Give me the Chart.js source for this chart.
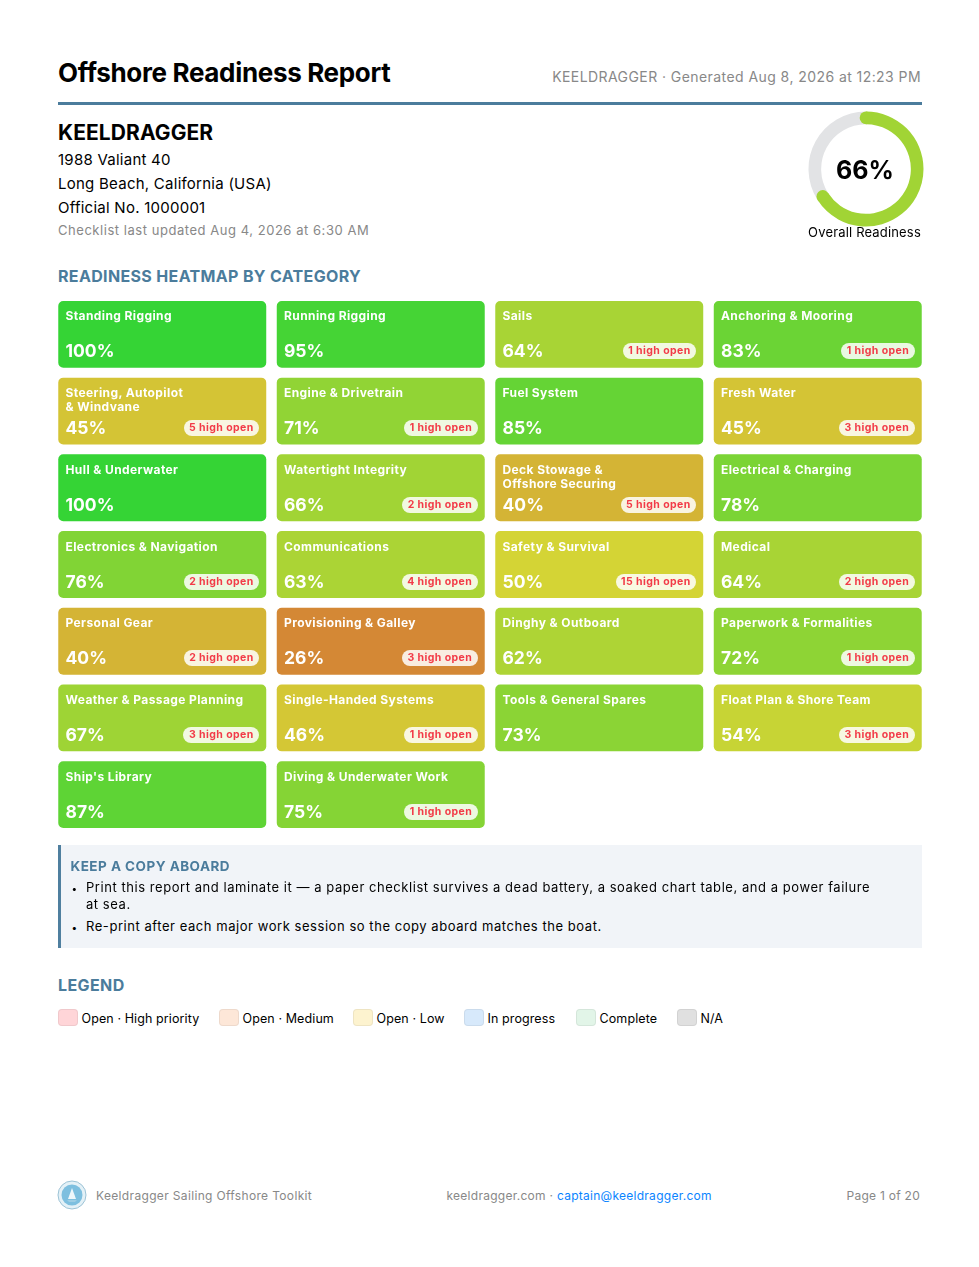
<!DOCTYPE html>
<html>
<head>
<meta charset="utf-8">
<title>Offshore Readiness Report</title>
<script src="https://cdn.jsdelivr.net/npm/chart.js@4"></script>
<style>
  html, body { margin: 0; padding: 0; background: #fff; }
  body { position: relative; width: 979px; height: 1267px; overflow: hidden; font-family: Inter, "Noto Sans", sans-serif; color: #000; }
  .t { position: absolute; white-space: pre; line-height: 1; }
  canvas { position: absolute; }
  .rule { position: absolute; left: 58px; top: 102px; width: 864px; height: 3px; background: #4b7c9c; }
  .h2 { font-weight: 700; color: #4b7c9c; }
  .callout { position: absolute; left: 58px; top: 845px; width: 860.5px; height: 103px; background: #f1f4f8; border-left: 3px solid #4f7f9f; }
  .swatch { position: absolute; top: 1009px; width: 18px; height: 15px; border-radius: 4px; border: 1px solid rgba(0,0,0,.06); }
  .cell-label { position: absolute; color: #fff; font-weight: 700; font-size: 12px; line-height: 14px; letter-spacing: .4px; white-space: pre; }
  .cell-pct { position: absolute; color: #fff; font-weight: 700; font-size: 17.5px; line-height: 20px; white-space: pre; }
  .cell-badge { position: absolute; height: 16px; line-height: 16px; padding: 0 5.5px; border-radius: 8px; background: rgba(255,255,255,.85); color: #f23b48; font-weight: 700; font-size: 10.5px; letter-spacing: .42px; white-space: pre; }
</style>
</head>
<body>
<div class="t" style="left:58px;top:60px;font-size:26px;font-weight:700;letter-spacing:-.33px">Offshore Readiness Report</div>
<div class="t" id="generated" style="right:58px;top:70px;font-size:14px;color:#888;letter-spacing:.43px">KEELDRAGGER · Generated Aug 8, 2026 at 12:23 PM</div>
<div class="rule"></div>

<div class="t" style="left:58px;top:122px;font-size:21px;font-weight:700;letter-spacing:.08px">KEELDRAGGER</div>
<div class="t" style="left:58px;top:151.5px;font-size:15px;letter-spacing:.25px">1988 Valiant 40</div>
<div class="t" style="left:58px;top:175.5px;font-size:15px;letter-spacing:.25px">Long Beach, California (USA)</div>
<div class="t" style="left:58px;top:199.5px;font-size:15px;letter-spacing:.25px">Official No. 1000001</div>
<div class="t" style="left:58px;top:224px;font-size:13px;color:#888;letter-spacing:.54px">Checklist last updated Aug 4, 2026 at 6:30 AM</div>

<canvas id="gauge" width="120" height="120" style="left:806px;top:109px;width:120px;height:120px"></canvas>
<div class="t" id="gaugeValue" style="left:805px;width:120px;text-align:center;top:157.5px;font-size:25px;font-weight:700"></div>
<div class="t" style="left:805px;width:119px;text-align:center;top:226px;font-size:13px;letter-spacing:.17px">Overall Readiness</div>

<div class="t h2" style="left:58px;top:268px;font-size:16px;letter-spacing:.34px">READINESS HEATMAP BY CATEGORY</div>

<canvas id="heatmap" width="874" height="537" style="left:53px;top:296px;width:874px;height:537px"></canvas>
<div id="cellText"></div>

<div class="callout"></div>
<div class="t h2" style="left:70.5px;top:860px;font-size:13.5px;letter-spacing:.47px">KEEP A COPY ABOARD</div>
<div class="t" style="left:71.5px;top:883px;font-size:10px">•</div>
<div class="t" style="left:86px;top:881px;font-size:13px;letter-spacing:.55px">Print this report and laminate it — a paper checklist survives a dead battery, a soaked chart table, and a power failure</div>
<div class="t" style="left:86px;top:897.5px;font-size:13px;letter-spacing:.55px">at sea.</div>
<div class="t" style="left:71.5px;top:921.5px;font-size:10px">•</div>
<div class="t" style="left:86px;top:919.5px;font-size:13px;letter-spacing:.55px">Re-print after each major work session so the copy aboard matches the boat.</div>

<div class="t h2" style="left:58px;top:977px;font-size:16px;letter-spacing:.4px">LEGEND</div>
<div id="legend"></div>

<svg style="position:absolute;left:57px;top:1180px" width="30" height="30" viewBox="0 0 30 30">
  <circle cx="15" cy="15" r="14" fill="#e4f1f7" stroke="#9cc3d6" stroke-width="1"/>
  <circle cx="15" cy="15" r="10.5" fill="#7dbfdf"/>
  <path d="M15 8 L19 19 H11 Z" fill="#eef7fb"/>
  <path d="M10 20 H20 L18 22 H12 Z" fill="#9ccde4"/>
</svg>
<div class="t" style="left:96px;top:1190px;font-size:12px;color:#888;letter-spacing:.34px">Keeldragger Sailing Offshore Toolkit</div>
<div class="t" style="left:446.5px;top:1190px;font-size:12px;color:#888;letter-spacing:.27px">keeldragger.com · <span style="color:#0a84ff">captain@keeldragger.com</span></div>
<div class="t" style="right:59px;top:1190px;font-size:12px;color:#888;letter-spacing:.27px">Page 1 of 20</div>

<script>
// Heatmap data, reading order left to right
const categories = [
  'Standing Rigging', 'Running Rigging', 'Sails', 'Anchoring & Mooring',
  'Steering, Autopilot\n& Windvane', 'Engine & Drivetrain', 'Fuel System', 'Fresh Water',
  'Hull & Underwater', 'Watertight Integrity', 'Deck Stowage &\nOffshore Securing', 'Electrical & Charging',
  'Electronics & Navigation', 'Communications', 'Safety & Survival', 'Medical',
  'Personal Gear', 'Provisioning & Galley', 'Dinghy & Outboard', 'Paperwork & Formalities',
  'Weather & Passage Planning', 'Single-Handed Systems', 'Tools & General Spares', 'Float Plan & Shore Team',
  "Ship's Library", 'Diving & Underwater Work'
];
const readiness = [
  100, 95, 64, 83,
  45, 71, 85, 45,
  100, 66, 40, 78,
  76, 63, 50, 64,
  40, 26, 62, 72,
  67, 46, 73, 54,
  87, 75
];
const highOpen = [
  0, 0, 1, 1,
  5, 1, 0, 3,
  0, 2, 5, 0,
  2, 4, 15, 2,
  2, 3, 0, 1,
  3, 1, 0, 3,
  0, 1
];
const columns = ['c1', 'c2', 'c3', 'c4'];
const rowCount = 7;

const overall = [66, 34];

const legendLabels = ['Open · High priority', 'Open · Medium', 'Open · Low', 'In progress', 'Complete', 'N/A'];
const legendColors = ['#ffd5d8', '#fde7d8', '#fdf3cf', '#d7e9fb', '#e2f5e8', '#e0e0e0'];
const legendLefts = [58, 219, 353, 464, 576, 677];

// Cell colour runs red to green with the score
const scoreColor = (pct) => `hsl(${pct * 1.2}, 65%, 52%)`;
const rowInset = 0.051;

// Heatmap cells are floating bars on a column axis and a row axis
const heatmap = new Chart(document.getElementById('heatmap'), {
  type: 'bar',
  data: {
    labels: columns,
    datasets: [{
      data: readiness.map((pct, i) => {
        const row = Math.floor(i / columns.length);
        return { x: columns[i % columns.length], y: [row + rowInset, row + 1 - rowInset] };
      }),
      backgroundColor: readiness.map(scoreColor),
      borderColor: 'rgba(255,255,255,0.3)',
      borderWidth: 1,
      borderSkipped: false,
      borderRadius: 6,
      categoryPercentage: 1,
      barPercentage: 0.961
    }]
  },
  options: {
    responsive: false,
    animation: false,
    layout: { padding: 0 },
    plugins: { legend: { display: false }, tooltip: { enabled: false } },
    scales: {
      x: { display: false, offset: true },
      y: { display: false, min: 0, max: rowCount, reverse: true }
    }
  }
});

// Text on top of the cells, placed from the bar elements
const box = document.getElementById('heatmap');
const cellText = document.getElementById('cellText');
heatmap.getDatasetMeta(0).data.forEach((bar, i) => {
  const { x, y, base, width } = bar.getProps(['x', 'y', 'base', 'width'], true);
  const left = box.offsetLeft + x - width / 2;
  const right = box.offsetLeft + x + width / 2;
  const top = box.offsetTop + Math.min(y, base);

  const label = document.createElement('div');
  label.className = 'cell-label';
  label.textContent = categories[i];
  label.style.left = (left + 8.25) + 'px';
  label.style.top = (top + 9.5) + 'px';
  cellText.appendChild(label);

  const pct = document.createElement('div');
  pct.className = 'cell-pct';
  pct.textContent = readiness[i] + '%';
  pct.style.left = (left + 8.25) + 'px';
  pct.style.top = (top + 41.5) + 'px';
  cellText.appendChild(pct);

  if (highOpen[i] > 0) {
    const badge = document.createElement('div');
    badge.className = 'cell-badge';
    badge.textContent = highOpen[i] + ' high open';
    badge.style.right = (979 - right + 8) + 'px';
    badge.style.top = (top + 43.5) + 'px';
    cellText.appendChild(badge);
  }
});

// Round caps on the readiness arc, taken from the arc element itself
const roundCaps = {
  id: 'roundCaps',
  afterDatasetsDraw(chart) {
    const arc = chart.getDatasetMeta(0).data[0];
    const { x, y, startAngle, endAngle, innerRadius, outerRadius } =
      arc.getProps(['x', 'y', 'startAngle', 'endAngle', 'innerRadius', 'outerRadius'], true);
    const mid = (innerRadius + outerRadius) / 2;
    const capR = (outerRadius - innerRadius) / 2;
    const ctx = chart.ctx;
    ctx.save();
    ctx.fillStyle = arc.options.backgroundColor;
    [startAngle, endAngle].forEach((a) => {
      ctx.beginPath();
      ctx.arc(x + mid * Math.cos(a), y + mid * Math.sin(a), capR, 0, Math.PI * 2);
      ctx.fill();
    });
    ctx.restore();
  }
};

new Chart(document.getElementById('gauge'), {
  type: 'doughnut',
  data: {
    labels: ['Ready', 'Remaining'],
    datasets: [{
      data: overall,
      backgroundColor: [scoreColor(overall[0]), '#e2e3e5'],
      borderWidth: 0
    }]
  },
  options: {
    responsive: false,
    animation: false,
    cutout: '78%',
    layout: { padding: 2.5 },
    plugins: { legend: { display: false }, tooltip: { enabled: false } }
  },
  plugins: [roundCaps]
});
document.getElementById('gaugeValue').textContent = overall[0] + '%';

// Legend row
const legend = document.getElementById('legend');
legendLabels.forEach((name, i) => {
  const sw = document.createElement('div');
  sw.className = 'swatch';
  sw.style.left = legendLefts[i] + 'px';
  sw.style.background = legendColors[i];
  legend.appendChild(sw);
  const txt = document.createElement('div');
  txt.className = 't';
  txt.textContent = name;
  txt.style.cssText = `left:${legendLefts[i] + 23.5}px;top:1013px;font-size:12.5px;letter-spacing:.1px`;
  legend.appendChild(txt);
});
</script>
</body>
</html>
